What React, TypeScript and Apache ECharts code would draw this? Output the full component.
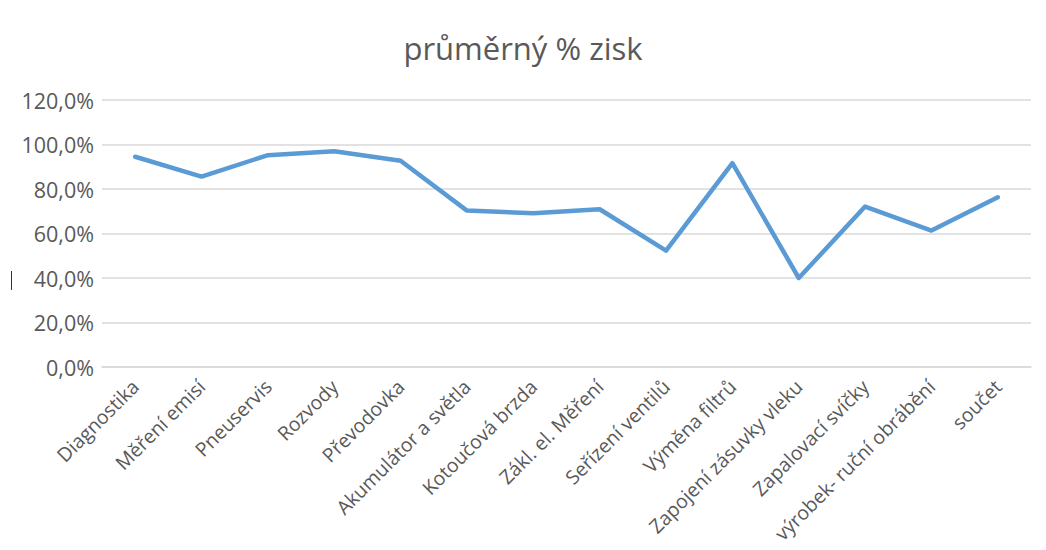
import React, { useEffect, useRef } from "react";
import * as echarts from "echarts";

const categories = [
  "Diagnostika",
  "Měření emisí",
  "Pneuservis",
  "Rozvody",
  "Převodovka",
  "Akumulátor a světla",
  "Kotoučová brzda",
  "Zákl. el. Měření",
  "Seřízení ventilů",
  "Výměna filtrů",
  "Zapojení zásuvky vleku",
  "Zapalovací svíčky",
  "výrobek- ruční obrábění",
  "součet",
];

const profit = [94.5, 85.6, 95.2, 97.0, 92.7, 70.3, 69.1, 70.9, 52.3, 91.6, 40.0, 72.1, 61.3, 76.3];

const title = "průměrný % zisk";
const yMin = 0;
const yMax = 120;
const yInterval = 20;

export default function App() {
  const ref = useRef<HTMLDivElement>(null);
  useEffect(() => {
    if (!ref.current) return;
    const chart = echarts.init(ref.current, null, { renderer: "svg" });
    const font = "'Open Sans', 'Noto Sans', sans-serif";
    chart.setOption({
      animation: false,
      backgroundColor: "#ffffff",
      title: {
        text: title,
        left: "center",
        top: 27,
        textStyle: { color: "#595959", fontSize: 31, fontWeight: "normal", fontFamily: font },
      },
      grid: { left: 102, right: 15, top: 100, bottom: 183, containLabel: false },
      xAxis: {
        type: "category",
        data: categories,
        boundaryGap: true,
        axisLine: { show: true, lineStyle: { color: "#d9d9d9", width: 1.5 } },
        axisTick: { show: false },
        axisLabel: {
          rotate: 45,
          interval: 0,
          margin: 16,
          color: "#595959",
          fontSize: 19.5,
          fontFamily: font,
        },
      },
      yAxis: {
        type: "value",
        min: yMin,
        max: yMax,
        interval: yInterval,
        axisLine: { show: false },
        axisTick: { show: false },
        splitLine: { lineStyle: { color: "#d9d9d9", width: 1.5 } },
        axisLabel: {
          margin: 8,
          color: "#595959",
          fontSize: 21.5,
          fontFamily: font,
          formatter: (v: number) => v.toFixed(1).replace(".", ",") + "%",
        },
      },
      series: [
        {
          type: "line",
          data: profit,
          symbol: "none",
          lineStyle: { color: "#5b9bd5", width: 4.5, cap: "round", join: "round" },
        },
      ],
      graphic: [
        {
          type: "line",
          shape: { x1: 11.5, y1: 271, x2: 11.5, y2: 290 },
          style: { stroke: "#333333", lineWidth: 1 },
        },
      ],
    });
    return () => chart.dispose();
  }, []);
  return (
    <div
      ref={ref}
      style={{ position: "fixed", left: 0, top: 0, width: 1046, height: 550 }}
    />
  );
}
